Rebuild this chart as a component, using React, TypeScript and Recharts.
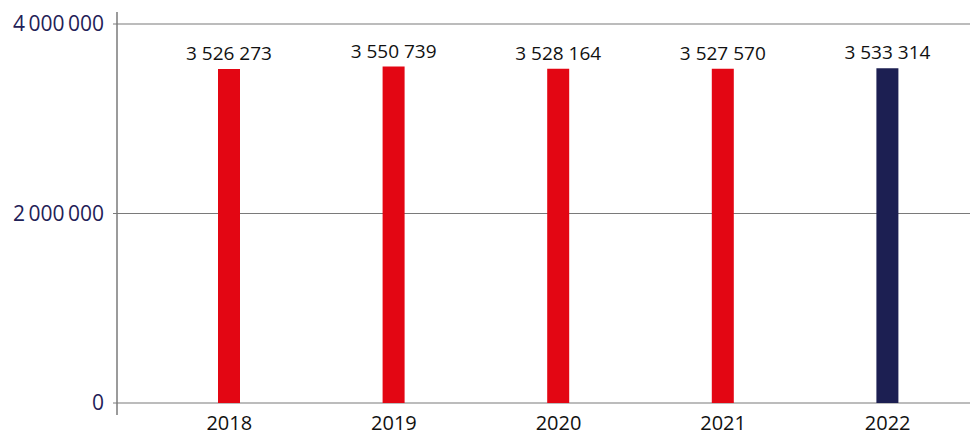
import { Bar, BarChart, CartesianGrid, Cell, LabelList, XAxis, YAxis } from "recharts";

const YEARS = ["2018", "2019", "2020", "2021", "2022"];
const VISITORS = [3526273, 3550739, 3528164, 3527570, 3533314];
const BAR_COLORS = ["#e30613", "#e30613", "#e30613", "#e30613", "#1c1f52"];
const Y_TICKS = [0, 2000000, 4000000];

const TICK_SIZE = 4;
const TICK_MARGIN = 9;
const FONT = "'Open Sans', sans-serif";

const data = YEARS.map((year, i) => ({ year, value: VISITORS[i] }));

const group = (v: number, sep: string) =>
  String(v).replace(/\B(?=(\d{3})+(?!\d))/g, sep);

function YTick(props: any) {
  const { x, y, payload } = props;
  const axisX = x + TICK_SIZE + TICK_MARGIN;
  const v = payload.value;
  return (
    <g>
      {v === Y_TICKS[0] && (
        <line x1={axisX} x2={axisX} y1={y} y2={y + 12} stroke="#7a7a7a" strokeWidth={1.5} />
      )}
      {v === Y_TICKS[Y_TICKS.length - 1] && (
        <line x1={axisX} x2={axisX} y1={y - 12} y2={y} stroke="#7a7a7a" strokeWidth={1.5} />
      )}
      <text x={x} y={y} dy="0.355em" textAnchor="end" fill="#1f2157" fontSize={21} fontFamily={FONT}>
        {group(v, "\u2009")}
      </text>
    </g>
  );
}

export default function App() {
  return (
    <div style={{ width: 970, height: 438 }}>
      <style>{"body{margin:0}"}</style>
      <BarChart
        width={970}
        height={438}
        data={data}
        margin={{ top: 24, right: 0, bottom: 0, left: 0 }}
        barSize={22}
      >
        <CartesianGrid vertical={false} stroke="#7a7a7a" strokeWidth={1.2} />
        <XAxis
          dataKey="year"
          axisLine={false}
          tickLine={false}
          tickSize={0}
          tickMargin={13}
          height={35}
          padding={{ left: 30, right: 0 }}
          tick={{ fill: "#111", fontSize: 20, fontFamily: FONT }}
        />
        <YAxis
          width={117}
          domain={[0, 4000000]}
          ticks={Y_TICKS}
          interval={0}
          tickSize={TICK_SIZE}
          tickMargin={TICK_MARGIN}
          axisLine={{ stroke: "#7a7a7a", strokeWidth: 1.5 }}
          tickLine={{ stroke: "#7a7a7a" }}
          tick={<YTick />}
        />
        <Bar dataKey="value" isAnimationActive={false}>
          {data.map((_, i) => (
            <Cell key={i} fill={BAR_COLORS[i]} />
          ))}
          <LabelList
            dataKey="value"
            position="top"
            offset={9}
            formatter={(v: any) => group(Number(v), "\u00a0")}
            style={{ fill: "#111", fontSize: 19, fontFamily: FONT }}
          />
        </Bar>
      </BarChart>
    </div>
  );
}
